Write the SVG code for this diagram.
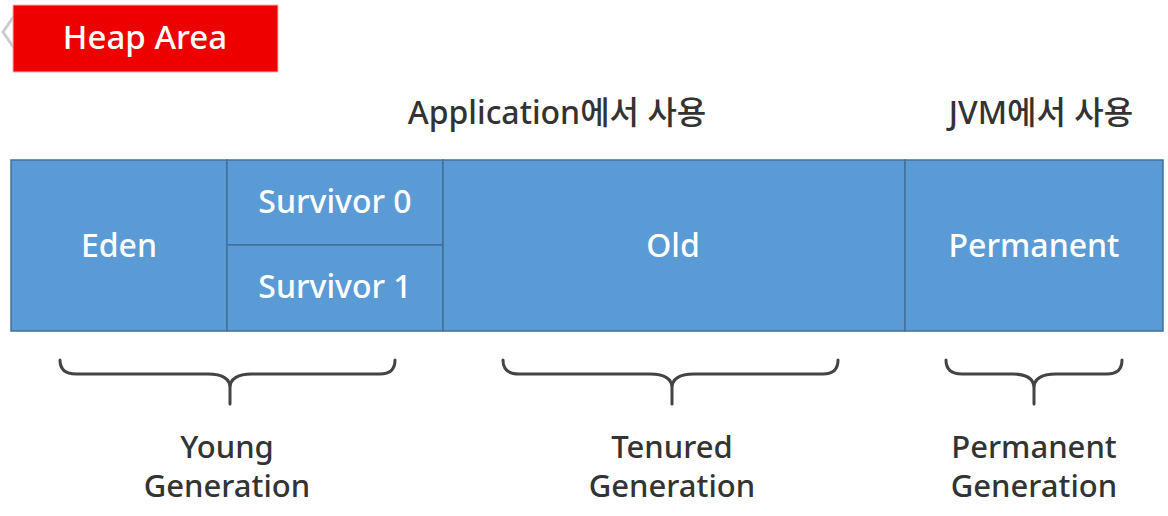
<svg xmlns="http://www.w3.org/2000/svg" width="1168" height="516" viewBox="0 0 1168 516">
<style>
text{font-family:"Noto Sans","Noto Sans CJK KR",sans-serif;text-anchor:middle;font-weight:500}
.box{fill:#5B9BD5;stroke:#41719C;stroke-width:1.5}
.w{fill:#fff;font-size:32px}
.d{fill:#333;font-size:31px}
.h{fill:#333;font-size:32px}
.brace{fill:none;stroke:#444;stroke-width:3;stroke-linecap:round;stroke-linejoin:round}
</style>
<rect width="1168" height="516" fill="#fff"/>
<g id="chevron"><polyline points="14,16 3,32 14,48" fill="none" stroke="#ccc" stroke-width="3"/></g>
<g id="heap-area">
<rect x="13" y="5" width="265" height="67" fill="#EE0000" stroke="#f6b0b0" stroke-width="1"/>
<text x="145" y="49" fill="#fff" font-size="33">Heap Area</text>
</g>
<g id="header-app"><text class="h" x="557" y="124">Application에서 사용</text></g>
<g id="header-jvm"><text class="h" x="1041" y="124">JVM에서 사용</text></g>
<g id="eden"><rect class="box" x="11" y="160" width="216" height="171"/><text class="w" x="119" y="257">Eden</text></g>
<g id="survivor0"><rect class="box" x="227" y="160" width="216" height="85"/><text class="w" x="335" y="213">Survivor 0</text></g>
<g id="survivor1"><rect class="box" x="227" y="245" width="216" height="86"/><text class="w" x="335" y="298">Survivor 1</text></g>
<g id="old"><rect class="box" x="443" y="160" width="462" height="171"/><text class="w" x="673" y="257">Old</text></g>
<g id="permanent"><rect class="box" x="905" y="160" width="258" height="171"/><text class="w" x="1034" y="257">Permanent</text></g>
<g id="connectors">
<path class="brace" d="M60,360 Q60,374 76,374 L208,374 Q230,374 230,388 L230,404 M230,388 Q230,374 252,374 L380,374 Q395,374 395,360"/>
<path class="brace" d="M503,360 Q503,374 519,374 L650,374 Q672,374 672,388 L672,404 M672,388 Q672,374 694,374 L823,374 Q838,374 838,360"/>
<path class="brace" d="M946,360 Q946,374 962,374 L1012,374 Q1034,374 1034,388 L1034,404 M1034,388 Q1034,374 1056,374 L1107,374 Q1122,374 1122,360"/>
</g>
<g id="young-gen"><text class="d" x="227" y="458">Young</text><text class="d" x="227" y="497">Generation</text></g>
<g id="tenured-gen"><text class="d" x="672" y="458">Tenured</text><text class="d" x="672" y="497">Generation</text></g>
<g id="perm-gen"><text class="d" x="1034" y="458">Permanent</text><text class="d" x="1034" y="497">Generation</text></g>
</svg>
